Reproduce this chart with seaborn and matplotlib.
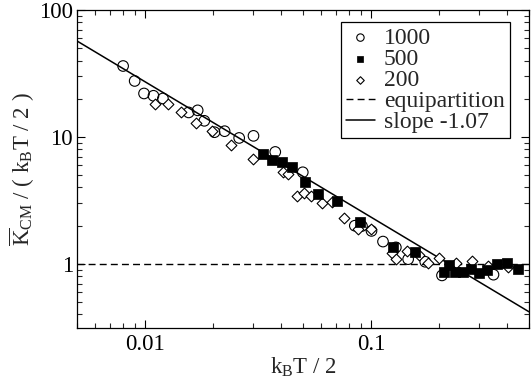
import matplotlib
matplotlib.use("Agg")
import matplotlib.pyplot as plt
import matplotlib.ticker as mticker
import seaborn as sns
import pandas as pd

# values (log-log axes)
n1000_x = [0.0080, 0.0090, 0.0099, 0.0109, 0.0120, 0.0156, 0.0171, 0.0183, 0.0203, 0.0225,
           0.0261, 0.0302, 0.0377, 0.0499, 0.0848, 0.0912, 0.1005, 0.113, 0.1288, 0.146,
           0.1738, 0.2061, 0.3483]
n1000_y = [36.2, 27.6, 22.0, 21.1, 20.1, 15.6, 16.2, 13.4, 10.9, 11.1,
           9.82, 10.2, 7.62, 5.27, 2.00, 1.99, 1.82, 1.50, 1.35, 1.09,
           1.04, 0.812, 0.823]

n500_x = [0.0333, 0.0364, 0.0403, 0.0447, 0.0509, 0.0584, 0.0708, 0.0892, 0.125, 0.1563,
          0.2097, 0.2206, 0.2356, 0.2555, 0.2757, 0.2992, 0.3266, 0.3615, 0.4001, 0.4456]
n500_y = [7.32, 6.59, 6.36, 5.84, 4.38, 3.54, 3.13, 2.14, 1.37, 1.25,
          0.870, 0.982, 0.865, 0.870, 0.913, 0.845, 0.892, 0.996, 1.024, 0.908]

n200_x = [0.0111, 0.0126, 0.0144, 0.0168, 0.0197, 0.0241, 0.0300, 0.0406, 0.0430, 0.0470,
          0.0503, 0.0540, 0.0608, 0.0673, 0.0758, 0.0877, 0.1003, 0.1234, 0.1284, 0.1441,
          0.1633, 0.1794, 0.2007, 0.2368, 0.2786, 0.3287, 0.4044]
n200_y = [18.2, 18.1, 15.7, 12.9, 11.05, 8.70, 6.68, 5.30, 5.14, 3.45,
          3.62, 3.43, 3.02, 3.05, 2.29, 1.88, 1.87, 1.23, 1.09, 1.27,
          1.18, 1.02, 1.12, 1.02, 1.06, 0.964, 0.952]

equip_y = 1.0
fit_x = [0.005, 0.5]
fit_y = [57.0, 0.42]

sns.set_theme(style="ticks", rc={
    "xtick.direction": "in", "ytick.direction": "in",
    "xtick.top": True, "ytick.right": True,
    "xtick.major.size": 5.8, "ytick.major.size": 5.8,
    "xtick.minor.size": 3.5, "ytick.minor.size": 3.5,
    "xtick.major.width": 0.8, "ytick.major.width": 0.8,
    "xtick.minor.width": 0.8, "ytick.minor.width": 0.8,
    "axes.linewidth": 0.9, "axes.edgecolor": "black",
})
plt.rcParams["font.family"] = ["Liberation Serif", "DejaVu Serif"]
plt.rcParams["mathtext.fontset"] = "custom"
plt.rcParams["mathtext.rm"] = "Liberation Serif"
plt.rcParams["mathtext.it"] = "Liberation Serif:italic"

fig = plt.figure(figsize=(5.32, 3.82), dpi=100)
ax = fig.add_axes([0.1447, 0.1414, 0.8496, 0.8325])

df1000 = pd.DataFrame({"x": n1000_x, "y": n1000_y})
df500 = pd.DataFrame({"x": n500_x, "y": n500_y})
df200 = pd.DataFrame({"x": n200_x, "y": n200_y})
dffit = pd.DataFrame({"x": fit_x, "y": fit_y})

ax.axhline(equip_y, color="black", lw=1.0, ls=(0, (5, 3)), label="equipartition", zorder=1)
sns.lineplot(x="x", y="y", data=dffit, color="black", lw=1.1, label="slope -1.07", ax=ax, zorder=2)
sns.scatterplot(x="x", y="y", data=df1000, marker="o", s=58, facecolor="none",
                edgecolor="black", linewidth=0.8, label="1000", ax=ax, zorder=3)
sns.scatterplot(x="x", y="y", data=df500, marker="s", s=48, color="black",
                edgecolor="black", linewidth=0.5, label="500", ax=ax, zorder=4)
sns.scatterplot(x="x", y="y", data=df200, marker="D", s=30, facecolor="white",
                edgecolor="black", linewidth=0.8, label="200", ax=ax, zorder=3)

ax.set_xscale("log")
ax.set_yscale("log")
ax.set_xlim(0.005, 0.5)
ax.set_ylim(0.313, 100)
ax.set_xticks([0.01, 0.1])
ax.set_xticklabels(["0.01", "0.1"])
ax.set_yticks([1, 10, 100])
ax.set_yticklabels(["1", "10", "100"])
ax.xaxis.set_minor_formatter(mticker.NullFormatter())
ax.yaxis.set_minor_formatter(mticker.NullFormatter())
ax.tick_params(axis="both", which="major", labelsize=16.5, colors="black")
ax.tick_params(axis="x", which="major", pad=4)
ax.tick_params(axis="y", which="major", pad=3)

ax.set_xlabel(r"k$_\mathrm{B}$T / 2", fontsize=16.5, labelpad=1)
ax.set_ylabel(r"$\overline{\mathrm{K}}_\mathrm{CM}$ / ( k$_\mathrm{B}$T / 2 )", fontsize=16.5, labelpad=1)

h, l = ax.get_legend_handles_labels()
order = ["1000", "500", "200", "equipartition", "slope -1.07"]
hd = dict(zip(l, h))
leg = ax.legend([hd[k] for k in order], order, loc="upper right",
                bbox_to_anchor=(0.958, 0.962), fontsize=17, frameon=True,
                fancybox=False, framealpha=1, edgecolor="black",
                handlelength=1.2, handletextpad=0.4, labelspacing=-0.02,
                borderpad=0.22, borderaxespad=0, markerscale=0.7)
leg.get_frame().set_linewidth(0.9)

fig.savefig("out.png", dpi=100)
